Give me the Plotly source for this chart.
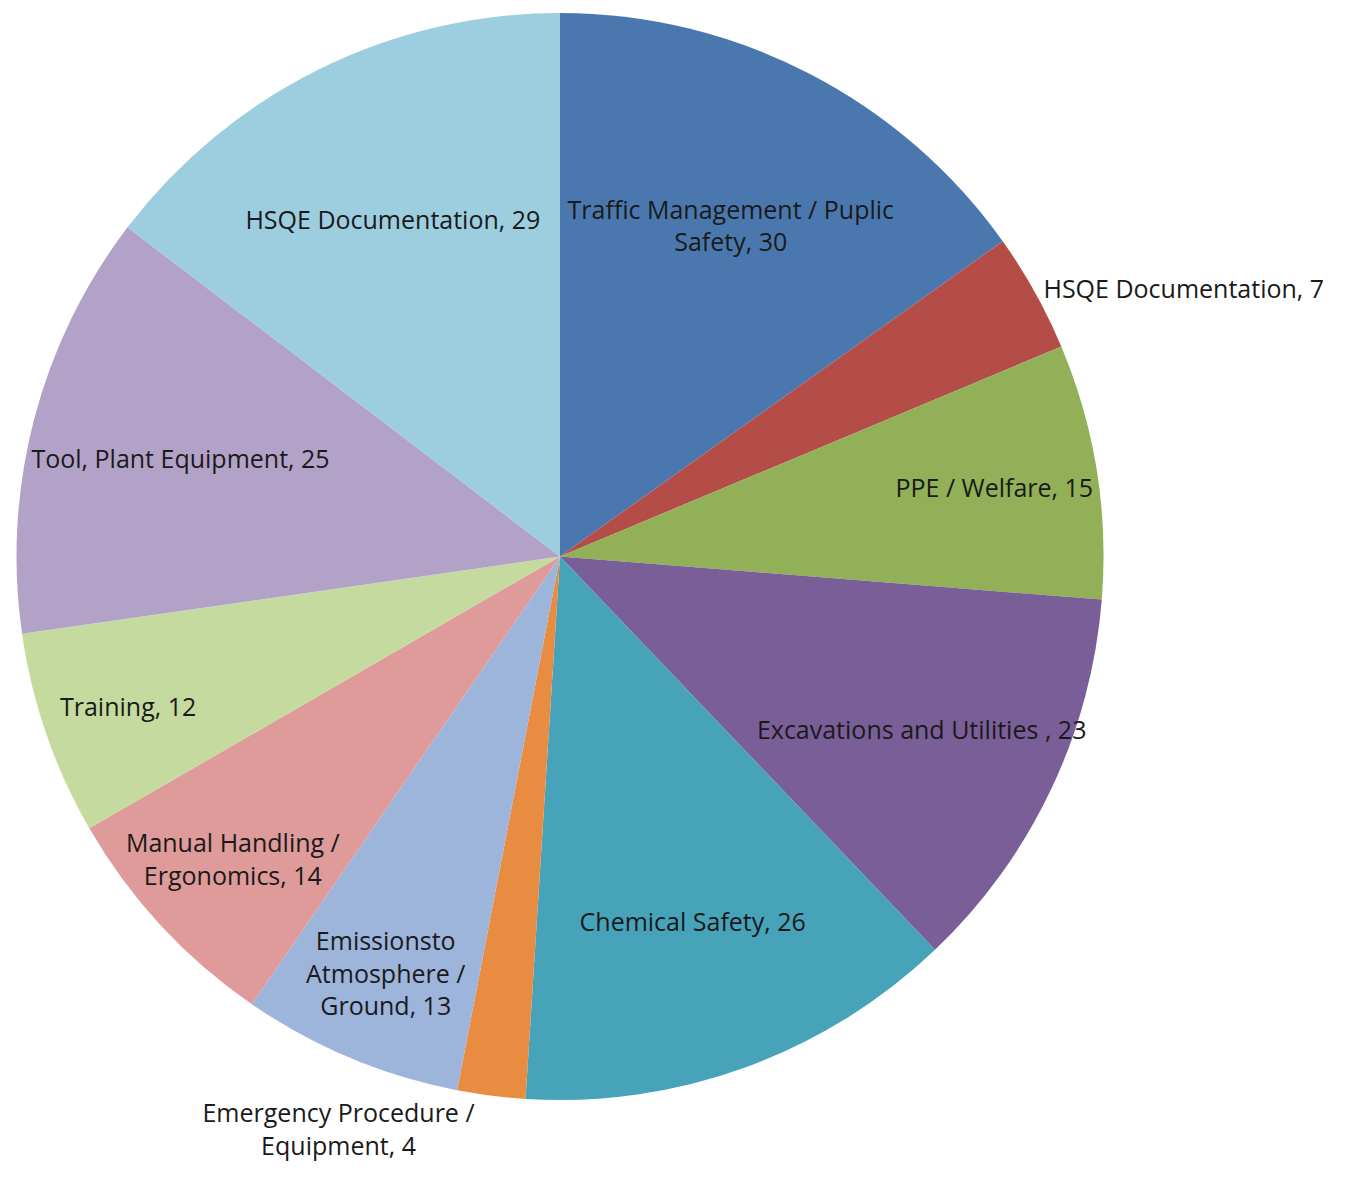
import plotly.graph_objects as go

labels = ["Traffic Management / Puplic Safety", "HSQE Documentation", "PPE / Welfare",
          "Excavations and Utilities", "Chemical Safety", "Emergency Procedure / Equipment",
          "Emissions to Atmosphere / Ground", "Manual Handling / Ergonomics", "Training",
          "Tool, Plant Equipment", "HSQE Documentation "]
values = [30, 7, 15, 23, 26, 4, 13, 14, 12, 25, 29]
texts = ["Traffic Management / Puplic<br>Safety, 30", "HSQE Documentation, 7", "PPE / Welfare, 15",
         "Excavations and Utilities , 23", "Chemical Safety, 26", "Emergency Procedure /<br>Equipment, 4",
         "Emissionsto<br>Atmosphere /<br>Ground, 13", "Manual Handling /<br>Ergonomics, 14", "Training, 12",
         "Tool, Plant Equipment, 25", "HSQE Documentation, 29"]
colors = ["#4A78AE", "#B44C48", "#92B057", "#795E98", "#47A3BA", "#E88C42",
          "#9DB4DB", "#DE9B99", "#C5DA9E", "#B3A2C8", "#9DCEE0"]
positions = ["inside", "outside", "inside", "inside", "inside", "outside",
             "inside", "inside", "inside", "inside", "inside"]

fig = go.Figure(go.Pie(
    labels=labels, values=values, text=texts, textinfo="text",
    textposition=positions, insidetextorientation="horizontal",
    sort=False, direction="clockwise", rotation=0,
    marker=dict(colors=colors, line=dict(width=0)),
    textfont=dict(family="Open Sans", size=25, color="#1a1a1a"),
    showlegend=False, hoverinfo="label+value",
))
fig.update_layout(
    width=1350, height=1177,
    margin=dict(l=5, r=253, t=0, b=85),
    paper_bgcolor="white", plot_bgcolor="white",
    uniformtext=dict(minsize=25, mode="show"),
)
fig.write_html("out.html")
